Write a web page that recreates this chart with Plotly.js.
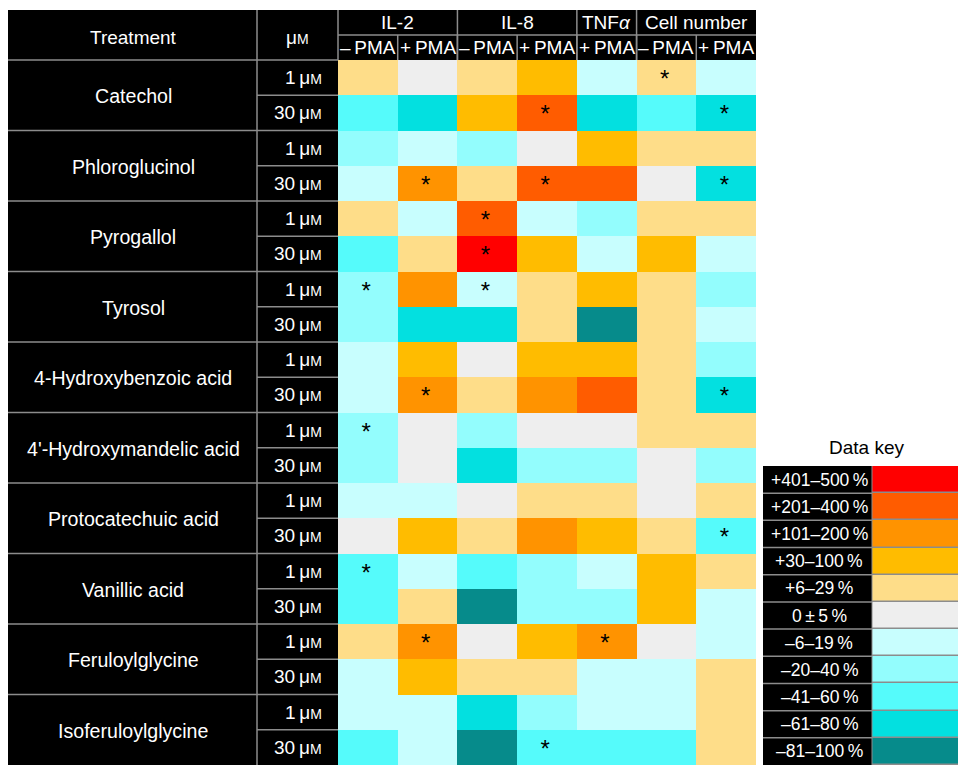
<!DOCTYPE html>
<html><head><meta charset="utf-8">
<script src="https://cdn.plot.ly/plotly-3.0.1.min.js"></script>
<style>html,body{margin:0;padding:0;background:#fff;}#chart{width:958px;height:765px;}</style>
</head><body><div id="chart"></div>
<script>
// ---- data ----
const compounds = ['Catechol','Phloroglucinol','Pyrogallol','Tyrosol','4-Hydroxybenzoic acid',"4'-Hydroxymandelic acid",'Protocatechuic acid','Vanillic acid','Feruloylglycine','Isoferuloylglycine'];
const doses = ['1','30'];
const columnLabels = ['\u2013\u2009PMA','+\u2009PMA','\u2013\u2009PMA','+\u2009PMA','+\u2009PMA','\u2013\u2009PMA','+\u2009PMA'];
const groupNames = ['IL-2','IL-8','TNF<i>\u03b1</i>','Cell number'];
const groupFirst = [0,2,4,5];
const groupLast  = [1,3,4,6];
// level codes: 5=+401–500%, 4=+201–400%, 3=+101–200%, 2=+30–100%, 1=+6–29%, 0=0±5%, -1=-6–19%, -2=-20–40%, -3=-41–60%, -4=-61–80%, -5=-81–100%
const levels = [
  [ 1, 0, 1, 2,-1, 1,-1],
  [-3,-4, 2, 4,-4,-3,-4],
  [-2,-1,-2, 0, 2, 1, 1],
  [-1, 3, 1, 4, 4, 0,-4],
  [ 1,-1, 4,-1,-2, 1, 1],
  [-3, 1, 5, 2,-1, 2,-1],
  [-2, 3,-1, 1, 2, 1,-2],
  [-2,-4,-4, 1,-5, 1,-1],
  [-1, 2, 0, 2, 2, 1,-2],
  [-1, 3, 1, 3, 4, 1,-4],
  [-2, 0,-2, 0, 0, 1, 1],
  [-2, 0,-4,-2,-2, 0,-2],
  [-1,-1, 0, 1, 1, 0, 1],
  [ 0, 2, 1, 3, 2, 1,-3],
  [-3,-1,-3,-2,-1, 2, 1],
  [-3, 1,-5,-2,-2, 2,-1],
  [ 1, 3, 0, 2, 3, 0,-1],
  [-1, 2, 1, 1,-1,-1, 1],
  [-1,-1,-4,-2,-1,-1, 1],
  [-3,-1,-5,-3,-3,-3, 1]
];
const significant = [
  [0,0,0,0,0,1,0],
  [0,0,0,1,0,0,1],
  [0,0,0,0,0,0,0],
  [0,1,0,1,0,0,1],
  [0,0,1,0,0,0,0],
  [0,0,1,0,0,0,0],
  [1,0,1,0,0,0,0],
  [0,0,0,0,0,0,0],
  [0,0,0,0,0,0,0],
  [0,1,0,0,0,0,1],
  [1,0,0,0,0,0,0],
  [0,0,0,0,0,0,0],
  [0,0,0,0,0,0,0],
  [0,0,0,0,0,0,1],
  [1,0,0,0,0,0,0],
  [0,0,0,0,0,0,0],
  [0,1,0,0,1,0,0],
  [0,0,0,0,0,0,0],
  [0,0,0,0,0,0,0],
  [0,0,0,1,0,0,0]
];
const keyLevels = [5,4,3,2,1,0,-1,-2,-3,-4,-5];
const keyLabels = ['+401\u2013500\u2009%','+201\u2013400\u2009%','+101\u2013200\u2009%','+30\u2013100\u2009%','+6\u201329\u2009%','0\u2009\u00b1\u20095\u2009%','\u20136\u201319\u2009%','\u201320\u201340\u2009%','\u201341\u201360\u2009%','\u201361\u201380\u2009%','\u201381\u2013100\u2009%'];
// colours from lowest level (-5) to highest (+5)
const levelColors = ['#068b8b','#03e0e0','#55fbfb','#93fdfd','#c8fefe','#eeeeee','#fedd89','#ffbc00','#ff9300','#ff5c00','#ff0000'];

// ---- layout helpers ----
const W = 958, H = 765;
const px = x => x / W, py = y => 1 - y / H;
const FONT = '"Liberation Sans", Arial, Helvetica, sans-serif';
const LINE = '#8c8c8c';

const cs = [];
levelColors.forEach((c,i)=>{ cs.push([i/11, c]); cs.push([(i+1)/11, c]); });

const nRows = levels.length;
const rowIdx = levels.map((_,i)=>i);
const colIdx = columnLabels.map((_,i)=>i);

const starX = [], starY = [], starT = [];
significant.forEach((row,r)=>row.forEach((s,c)=>{ if(s){ starX.push(c-0.03); starY.push(r+0.1); starT.push('*'); } }));

const traces = [
  {type:'heatmap', z: levels, x: colIdx, y: rowIdx, colorscale: cs, zmin:-5.5, zmax:5.5, showscale:false, hoverinfo:'skip', xaxis:'x', yaxis:'y'},
  {type:'scatter', mode:'text', x: starX, y: starY, text: starT, textposition:'middle center',
   textfont:{family:FONT, size:24, color:'#000'}, hoverinfo:'skip', showlegend:false, xaxis:'x', yaxis:'y'},
  {type:'heatmap', z: keyLevels.map(v=>[v]), x:[0], y: keyLevels.map((_,i)=>i), colorscale: cs, zmin:-5.5, zmax:5.5,
   showscale:false, hoverinfo:'skip', ygap:1.5, xaxis:'x2', yaxis:'y2'}
];

const shapes = [];
const annotations = [];
const rect = (x0,y0,x1,y1,fill)=>shapes.push({type:'rect', xref:'paper', yref:'paper', x0:px(x0), x1:px(x1), y0:py(y0), y1:py(y1), fillcolor:fill, line:{width:0}, layer:'below'});
// black backgrounds
rect(8,10,338,765,'#000');
rect(338,10,756,60,'#000');
rect(763,466,872,765,'#000');

const hline = (xref,x0,x1,yref,y,w)=>shapes.push({type:'line', xref, yref, x0, x1, y0:y, y1:y, line:{color:LINE, width:w||1.5}});
const vline = (xref,x,yref,y0,y1,w)=>shapes.push({type:'line', xref, yref, x0:x, x1:x, y0, y1, line:{color:LINE, width:w||1.5}});

// header lines
hline('paper', px(8), px(338), 'paper', py(60));
hline('x', -0.5, 6.5, 'paper', py(35));
vline('paper', px(257), 'paper', py(10), py(765));
vline('paper', px(338), 'paper', py(10), py(60));
groupLast.slice(0,-1).forEach(c=>vline('x', c+0.5, 'paper', py(10), py(60)));
colIdx.slice(0,-1).forEach(c=>vline('x', c+0.5, 'paper', py(35), py(60)));
// body lines
compounds.forEach((_,g)=>{ if(g>0) hline('paper', px(8), px(338), 'y', 2*g-0.5); hline('paper', px(257), px(338), 'y', 2*g+0.5); });

const ann = (o)=>annotations.push(Object.assign({showarrow:false, xanchor:'center', yanchor:'middle', font:{family:FONT, size:19, color:'#fff'}}, o));
ann({text:'Treatment', xref:'paper', yref:'paper', x:px(133), y:py(37)});
ann({text:'\u03bc<span style="font-size:14px">M</span>', xref:'paper', yref:'paper', x:px(297), y:py(37)});
groupNames.forEach((g,i)=>ann({text:g, xref:'x', yref:'paper', x:(groupFirst[i]+groupLast[i])/2, y:py(22.5)}));
columnLabels.forEach((c,i)=>ann({text:c, xref:'x', yref:'paper', x:i, y:py(47.5)}));
compounds.forEach((c,g)=>ann({text:c, xref:'paper', yref:'y', x:px(133), y:2*g+0.53, font:{family:FONT, size:19.6, color:'#fff'}}));
rowIdx.forEach(r=>ann({text:doses[r%2]+'\u2009\u03bc<span style="font-size:14px">M</span>', xref:'paper', yref:'y', x:px(324), xanchor:'right', y:r}));

// data key
ann({text:'Data key', xref:'paper', yref:'paper', x:px(866), y:py(447), font:{family:FONT, size:19, color:'#000'}});
keyLabels.forEach((l,i)=>ann({text:l, xref:'paper', yref:'y2', x:px(819), y:i, font:{family:FONT, size:17.5, color:'#fff'}}));
keyLevels.forEach((_,i)=>{ if(i>0) hline('paper', px(763), px(872), 'y2', i-0.5); });
vline('paper', px(872), 'y2', -0.5, 10.5, 1);

const layout = {
  width: W, height: H, margin:{l:0,r:0,t:0,b:0}, paper_bgcolor:'#fff', plot_bgcolor:'#8c8c8c',
  showlegend:false,
  xaxis:{domain:[px(338), px(756)], range:[-0.5,6.5], visible:false, fixedrange:true},
  yaxis:{domain:[0, py(60)], range:[nRows-0.5,-0.5], visible:false, fixedrange:true},
  xaxis2:{domain:[px(872), 1], range:[-0.5,0.5], visible:false, anchor:'y2'},
  yaxis2:{domain:[0, py(466)], range:[10.5,-0.5], visible:false, anchor:'x2'},
  shapes, annotations
};
Plotly.newPlot('chart', traces, layout, {staticPlot:true, displayModeBar:false});
</script></body></html>
